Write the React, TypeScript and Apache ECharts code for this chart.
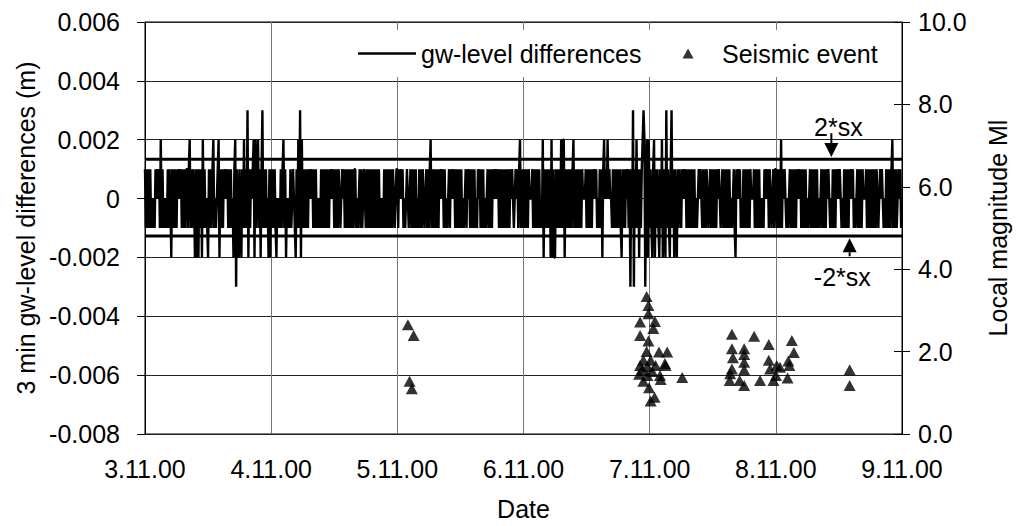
import React, { useEffect, useRef } from "react";
import * as echarts from "echarts";

// ---------- data ----------
const dateLabels = ["3.11.00", "4.11.00", "5.11.00", "6.11.00", "7.11.00", "8.11.00", "9.11.00"];

// 3-min gw-level differences, sampled every 10 min, one string per day.
// code c -> value (c - 3) * 0.001 m
const gwDay3Nov = "424242423232 434342524232 324243142424 243434242424 424524243141 414241524232 142424523234 514242434342 424231450421 421425242614 243451524524 146242423141";
const gwDay4Nov = "424242132324 245241323242 343214252615 242424243434 242423232424 242424243434 242424323434 242424242424 423234242343 242424242424 242423232424 242424243234";
const gwDay5Nov = "424343423234 323424242423 242424323424 245242424242 434342423234 243434242424 242323424342 424242324342 424232342424 243434342424 242424242434 323434245242";
const gwDay6Nov = "424242433342 424242423251 424242415141 142424252551 424242424524 242424243334 242424243434 232424145343 534332424242 424214242434 240426042524 142456504515";
const gwDay7Nov = "242145142421 425142162421 462414214243 243434242424 242423234343 242424323424 242424343234 242424242323 421434342324 242424243334 242424232324 343424323424";
const gwDay8Nov = "424242524343 232342424242 434342424242 323424242424 232342424243 432324242434 343232424242 434342323424 242433342424 242424243234 343232424242 452424234342";
const gwLevelDays = [gwDay3Nov, gwDay4Nov, gwDay5Nov, gwDay6Nov, gwDay7Nov, gwDay8Nov];
const gwCodeZero = 3;
const gwCodeStep = 0.001;

const twoSx = 0.00134;
const minusTwoSx = -0.00127;
const periodStartDay = 0;
const periodEndDay = 6;

// seismic events: days after 3.11.00 and local magnitude Ml
const eventDay = [
  2.084, 2.129, 2.097, 2.115,
  3.976, 3.99, 3.99, 3.924, 4.042, 4.029, 3.924, 3.99, 3.976, 4.074, 4.139, 3.95, 4.008, 4.126, 3.924, 3.982,
  4.047, 3.916, 3.982, 4.082, 4.087, 3.995, 4.039, 4.008, 4.258, 3.942, 4.021, 4.121, 3.95,
  4.652, 4.652, 4.66, 4.652, 4.638, 4.634, 4.749, 4.749, 4.749, 4.749, 4.713, 4.749, 4.828, 4.875, 4.944, 4.944,
  4.954, 4.981, 5.007, 5.033, 5.001, 5.127, 5.143, 5.099, 5.107, 5.093,
  5.585, 5.585,
];
const eventMagnitude = [
  2.65, 2.39, 1.28, 1.1,
  3.34, 3.12, 2.92, 2.72, 2.73, 2.56, 2.39, 2.26, 2.0, 1.99, 1.99, 1.79, 1.79, 1.66, 1.66, 1.64,
  1.66, 1.45, 1.42, 1.42, 1.32, 1.12, 0.89, 0.8, 1.37, 1.56, 1.52, 1.71, 1.28,
  2.42, 2.07, 1.85, 1.58, 1.46, 1.3, 2.07, 1.93, 1.74, 1.56, 1.3, 1.18, 2.37, 1.3, 2.17, 1.79,
  1.58, 1.3, 1.66, 1.62, 1.42, 2.27, 1.98, 1.77, 1.66, 1.36,
  1.56, 1.18,
];

// annotation anchors in data coordinates (days, m)
const sxAnnotations = [
  { label: "2*sx", text: [5.496, 0.00243], tail: [5.44, 0.00222], tip: [5.44, 0.00141] },
  { label: "-2*sx", text: [5.527, -0.00267], tail: [5.585, -0.00196], tip: [5.585, -0.00135] },
];

const FONT = "'Liberation Sans', Arial, Helvetica, sans-serif";

function buildLineData(): [number, number][] {
  const out: [number, number][] = [];
  gwLevelDays.forEach((dayStr, d) => {
    const codes = dayStr.replace(/\s/g, "");
    for (let i = 0; i < codes.length; i++) {
      const v = Math.round((Number(codes[i]) - gwCodeZero) * gwCodeStep * 1e6) / 1e6;
      out.push([d + i / codes.length, v]);
    }
  });
  return out;
}

export default function App() {
  const ref = useRef<HTMLDivElement>(null);

  useEffect(() => {
    document.body.style.margin = "0";
    if (!ref.current) return;
    const chart = echarts.init(ref.current, undefined, { renderer: "svg" });
    const lineData = buildLineData();
    const scatterData = eventDay.map((d, i) => [d, eventMagnitude[i]]);

    const sxLine = (name: string, v: number) => ({
      name,
      type: "line",
      data: [
        [periodStartDay, v],
        [periodEndDay, v],
      ],
      symbol: "none",
      lineStyle: { color: "#000", width: 3 },
      color: "#000",
      z: 4,
      silent: true,
    });

    chart.setOption({
      animation: false,
      backgroundColor: "#fff",
      textStyle: { fontFamily: FONT },
      grid: {
        left: 145,
        right: 112,
        top: 22,
        bottom: 92,
        show: true,
        borderColor: "#000",
        borderWidth: 1,
        backgroundColor: "#fff",
      },
      legend: {
        left: 348,
        top: 30,
        padding: [11, 12, 11, 10],
        backgroundColor: "#fff",
        itemWidth: 58,
        itemHeight: 10,
        itemGap: 41,
        symbolKeepAspect: true,
        textStyle: { fontSize: 25, color: "#000", fontFamily: FONT },
        data: [
          {
            name: "gw-level differences",
            icon: "path://M0,0H58V2.6H0Z",
            itemStyle: { color: "#000" },
          },
          {
            name: "Seismic event",
            icon: "path://M5,0L10,9L0,9Z",
            itemStyle: { color: "#000" },
          },
        ],
      },
      xAxis: {
        type: "value",
        min: 0,
        max: 6,
        interval: 1,
        axisLine: { show: true, lineStyle: { color: "#000", width: 1 } },
        axisTick: { show: true, inside: false, length: 8, lineStyle: { color: "#000" } },
        axisLabel: {
          fontSize: 25,
          color: "#000",
          fontFamily: FONT,
          margin: 22,
          formatter: (v: number) => dateLabels[Math.round(v)] ?? "",
        },
        splitLine: { show: true, lineStyle: { color: "#777", width: 1 } },
        name: "Date",
        nameLocation: "middle",
        nameGap: 62,
        nameTextStyle: { fontSize: 25, color: "#000", fontFamily: FONT },
      },
      yAxis: [
        {
          type: "value",
          min: -0.008,
          max: 0.006,
          interval: 0.002,
          axisLine: { show: true, lineStyle: { color: "#000", width: 1 } },
          axisTick: { show: true, inside: false, length: 8, lineStyle: { color: "#000" } },
          axisLabel: {
            fontSize: 25,
            color: "#000",
            fontFamily: FONT,
            margin: 25,
            formatter: (v: number) => {
              const r = Math.round(v * 1000) / 1000;
              return r === 0 ? "0" : String(r);
            },
          },
          splitLine: { show: true, lineStyle: { color: "#222", width: 1 } },
          name: "3 min gw-level differences (m)",
          nameLocation: "middle",
          nameGap: 107,
          nameTextStyle: { fontSize: 25, color: "#000", fontFamily: FONT },
        },
        {
          type: "value",
          position: "right",
          min: 0,
          max: 10,
          interval: 2,
          axisLine: { show: true, lineStyle: { color: "#000", width: 1 } },
          axisTick: { show: true, inside: false, length: 8, lineStyle: { color: "#000" } },
          axisLabel: {
            fontSize: 25,
            color: "#000",
            fontFamily: FONT,
            margin: 16,
            formatter: (v: number) => v.toFixed(1),
          },
          splitLine: { show: false },
          name: "Local magnitude Ml",
          nameLocation: "middle",
          nameGap: 83,
          nameTextStyle: { fontSize: 25, color: "#000", fontFamily: FONT },
        },
        {
          type: "value",
          position: "right",
          min: 0,
          max: 10,
          interval: 2,
          axisLine: { show: false },
          axisTick: { show: true, inside: true, length: 8, lineStyle: { color: "#000" } },
          axisLabel: { show: false },
          splitLine: { show: false },
        },
      ],
      series: [
        {
          name: "gw-level differences",
          type: "line",
          data: lineData,
          symbol: "none",
          showSymbol: false,
          color: "#000",
          lineStyle: { color: "#000", width: 2.4 },
          z: 2,
        },
        sxLine("2*sx", twoSx),
        sxLine("-2*sx", minusTwoSx),
        {
          name: "Seismic event",
          type: "scatter",
          yAxisIndex: 1,
          data: scatterData,
          symbol: "triangle",
          symbolSize: [12, 11],
          itemStyle: { color: "#000" },
          z: 5,
        },
      ],
    });

    const px = (p: number[]) => chart.convertToPixel({ xAxisIndex: 0, yAxisIndex: 0 }, p) as number[];
    const graphics: any[] = [];
    sxAnnotations.forEach((a) => {
      const t = px(a.text);
      const tail = px(a.tail);
      const tip = px(a.tip);
      const dir = tip[1] > tail[1] ? 1 : -1;
      const headLen = 14;
      graphics.push({
        type: "text",
        x: t[0],
        y: t[1],
        style: {
          text: a.label,
          fontSize: 25,
          fontFamily: FONT,
          fill: "#000",
          align: "center",
          verticalAlign: "middle",
        },
        z: 10,
      });
      graphics.push({
        type: "line",
        shape: { x1: tail[0], y1: tail[1], x2: tip[0], y2: tip[1] - dir * headLen },
        style: { stroke: "#000", lineWidth: 2 },
        z: 10,
      });
      graphics.push({
        type: "polygon",
        shape: {
          points: [
            [tip[0], tip[1]],
            [tip[0] - 7, tip[1] - dir * headLen],
            [tip[0] + 7, tip[1] - dir * headLen],
          ],
        },
        style: { fill: "#000" },
        z: 10,
      });
    });
    chart.setOption({ graphic: graphics });

    return () => chart.dispose();
  }, []);

  return <div ref={ref} style={{ width: 1018, height: 526 }} />;
}
